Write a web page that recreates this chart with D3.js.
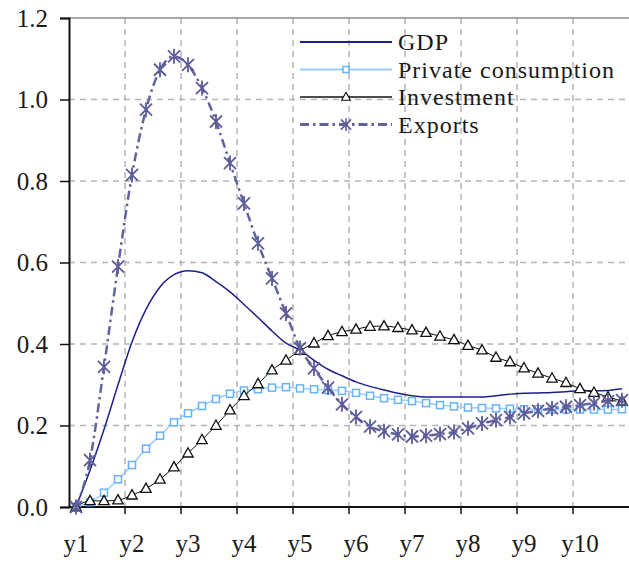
<!DOCTYPE html>
<html>
<head>
<meta charset="utf-8">
<script src="https://cdn.jsdelivr.net/npm/d3@7"></script>
<style>
  body { margin: 0; background: #fff; }
  svg text { font-family: 'Liberation Serif', 'Times New Roman', serif; fill: #1a1a1a; }
</style>
</head>
<body>
<svg id="chart"></svg>
<script>
// one label per year, four quarters per year
var years = ['y1', 'y2', 'y3', 'y4', 'y5', 'y6', 'y7', 'y8', 'y9', 'y10']
var yTicks = [0, 0.2, 0.4, 0.6, 0.8, 1.0, 1.2]

// quarterly responses
var gdp = [0, 0.09, 0.19, 0.30, 0.405, 0.485, 0.54, 0.57, 0.58, 0.575,
  0.553, 0.528, 0.497, 0.465, 0.432, 0.402, 0.385, 0.36, 0.338, 0.322,
  0.307, 0.296, 0.287, 0.279, 0.273, 0.27, 0.27, 0.27, 0.27, 0.27,
  0.273, 0.277, 0.279, 0.28, 0.281, 0.283, 0.285, 0.285, 0.286, 0.29]
var privateConsumption = [0, 0.012, 0.035, 0.068, 0.103, 0.143, 0.175, 0.208, 0.23, 0.248,
  0.265, 0.278, 0.286, 0.289, 0.293, 0.294, 0.291, 0.289, 0.287, 0.285,
  0.28, 0.273, 0.267, 0.263, 0.26, 0.255, 0.25, 0.247, 0.244, 0.243,
  0.242, 0.241, 0.24, 0.24, 0.239, 0.239, 0.239, 0.239, 0.239, 0.24]
var investment = [0, 0.015, 0.015, 0.017, 0.029, 0.045, 0.068, 0.098, 0.132, 0.165,
  0.2, 0.238, 0.273, 0.302, 0.336, 0.36, 0.384, 0.402, 0.42, 0.43,
  0.436, 0.443, 0.444, 0.44, 0.434, 0.428, 0.419, 0.41, 0.396, 0.385,
  0.367, 0.356, 0.341, 0.328, 0.316, 0.305, 0.29, 0.281, 0.27, 0.26]
var exports = [0, 0.115, 0.344, 0.59, 0.815, 0.975, 1.073, 1.106, 1.085, 1.028,
  0.946, 0.844, 0.745, 0.647, 0.561, 0.475, 0.39, 0.34, 0.293, 0.252,
  0.221, 0.197, 0.186, 0.178, 0.173, 0.175, 0.179, 0.184, 0.193, 0.205,
  0.213, 0.221, 0.23, 0.236, 0.242, 0.246, 0.25, 0.255, 0.26, 0.262]

var seriesNames = ['GDP', 'Private consumption', 'Investment', 'Exports']

var W = 629
var H = 564
var margin = {top: 18, right: 0, bottom: 57, left: 69}
var width = W - margin.left - margin.right
var height = H - margin.top - margin.bottom

var quarters = d3.range(gdp.length)

// band scale gives quarter edges, point in the middle of each band
var xb = d3.scaleBand().domain(quarters).range([0, width])
var x = function (i) { return xb(i) + xb.bandwidth() / 2 }
var y = d3.scaleLinear().domain([0, 1.2]).range([height, 0])

var svg = d3.select('#chart')
    .attr('width', W)
    .attr('height', H)
  .append('g')
    .attr('transform', 'translate(' + margin.left + ',' + margin.top + ')')

// year boundaries (every 4th quarter)
var yearEdges = years.slice(1).map(function (d, j) { return xb((j + 1) * 4) })

// dashed grid
svg.append('g').selectAll('line.hgrid')
    .data(yTicks.slice(1, -1))
  .enter().append('line')
    .attr('x1', 0).attr('x2', width)
    .attr('y1', function (d) { return y(d) })
    .attr('y2', function (d) { return y(d) })
    .attr('stroke', '#b4b4b4')
    .attr('stroke-width', 1.5)
    .attr('stroke-dasharray', '6,5')
svg.append('g').selectAll('line.vgrid')
    .data(yearEdges)
  .enter().append('line')
    .attr('x1', function (d) { return d }).attr('x2', function (d) { return d })
    .attr('y1', 0).attr('y2', height)
    .attr('stroke', '#b4b4b4')
    .attr('stroke-width', 1.5)
    .attr('stroke-dasharray', '6,5')

// top border
svg.append('line')
    .attr('x1', 0).attr('x2', width)
    .attr('y1', 0).attr('y2', 0)
    .attr('stroke', '#8c8c8c')
    .attr('stroke-width', 1.5)

// y axis
var yAxis = svg.append('g')
    .call(d3.axisLeft(y).tickValues(yTicks).tickFormat(d3.format('.1f')).tickSize(9).tickPadding(12))
yAxis.select('.domain').attr('stroke', '#111').attr('stroke-width', 2)
yAxis.selectAll('.tick line').attr('stroke', '#111').attr('stroke-width', 1.5)
yAxis.selectAll('text')
    .style('font-size', '25px')
    .attr('dy', '0.33em')

// x axis: labels on the first quarter of each year
var xAxis = svg.append('g')
    .attr('transform', 'translate(0,' + height + ')')
    .call(d3.axisBottom(xb)
      .tickValues(years.map(function (d, j) { return j * 4 }))
      .tickFormat(function (i) { return years[i / 4] })
      .tickSize(0)
      .tickPadding(27))
xAxis.select('.domain').remove()
xAxis.selectAll('.tick').attr('transform', function (i) { return 'translate(' + x(i) + ',0)' })
xAxis.selectAll('text').style('font-size', '25px')

svg.append('line')
    .attr('x1', 0).attr('x2', width)
    .attr('y1', height).attr('y2', height)
    .attr('stroke', '#111')
    .attr('stroke-width', 2)
svg.append('g').selectAll('line')
    .data(yearEdges)
  .enter().append('line')
    .attr('x1', function (d) { return d }).attr('x2', function (d) { return d })
    .attr('y1', height).attr('y2', height + 7)
    .attr('stroke', '#111')
    .attr('stroke-width', 1.5)

// markers
var starPath = 'M-6,-6L6,6M-6,6L6,-6M0,-7.5L0,7.5'
var triPath = 'M0,-5.5L5.2,3.8L-5.2,3.8Z'

var styles = [
  {values: gdp, color: '#1f1f8c', width: 1.5, dash: null, marker: null},
  {values: privateConsumption, color: '#99ccff', width: 1.5, dash: null, marker: 'square', mcolor: '#66b2ff'},
  {values: investment, color: '#111', width: 1, dash: null, marker: 'tri', mcolor: '#111'},
  {values: exports, color: '#62629e', width: 2.5, dash: '9,4,2.5,4', marker: 'star', mcolor: '#5c5c9a'}
]

var line = d3.line()
    .x(function (d, i) { return x(i) })
    .y(function (d) { return y(d) })
    .curve(d3.curveMonotoneX)

function drawMarker (g, kind, color, size) {
  var s = size || 1
  if (kind === 'square') {
    g.append('rect')
        .attr('x', -3.5 * s).attr('y', -3.5 * s)
        .attr('width', 7 * s).attr('height', 7 * s)
        .attr('fill', '#fff')
        .attr('stroke', color)
        .attr('stroke-width', 1.5)
  } else if (kind === 'tri') {
    g.append('path')
        .attr('d', triPath)
        .attr('transform', 'scale(' + s + ')')
        .attr('fill', '#fff')
        .attr('stroke', color)
        .attr('stroke-width', 1.3)
  } else if (kind === 'star') {
    g.append('path')
        .attr('d', starPath)
        .attr('transform', 'scale(' + s + ')')
        .attr('fill', 'none')
        .attr('stroke', color)
        .attr('stroke-width', 1.8)
  }
}

styles.forEach(function (s) {
  svg.append('path')
      .datum(s.values)
      .attr('fill', 'none')
      .attr('stroke', s.color)
      .attr('stroke-width', s.width)
      .attr('stroke-dasharray', s.dash)
      .attr('d', line)
  if (s.marker) {
    svg.append('g').selectAll('g')
        .data(s.values)
      .enter().append('g')
        .attr('transform', function (d, i) { return 'translate(' + x(i) + ',' + y(d) + ')' })
        .each(function () { drawMarker(d3.select(this), s.marker, s.mcolor) })
  }
})

// legend
var legend = d3.select('#chart').append('g')
    .attr('transform', 'translate(300,42)')
var item = legend.selectAll('g')
    .data(styles)
  .enter().append('g')
    .attr('transform', function (d, i) { return 'translate(0,' + (i * 27.5) + ')' })
item.append('line')
    .attr('x1', 0).attr('x2', 92)
    .attr('stroke', function (d) { return d.color })
    .attr('stroke-width', function (d) { return d.width + 0.5 })
    .attr('stroke-dasharray', function (d) { return d.dash })
item.each(function (d) {
  if (d.marker) {
    var g = d3.select(this).append('g').attr('transform', 'translate(46,0)')
    drawMarker(g, d.marker, d.mcolor, 0.85)
  }
})
item.append('text')
    .attr('x', 98)
    .attr('dy', '0.35em')
    .style('font-size', '24px')
    .style('letter-spacing', '1px')
    .text(function (d, i) { return seriesNames[i] })
</script>
</body>
</html>
